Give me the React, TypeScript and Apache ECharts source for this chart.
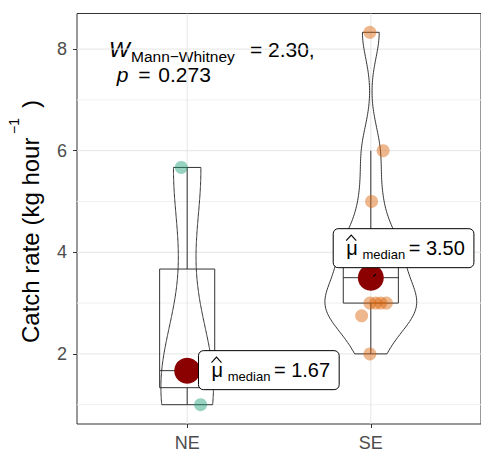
import React, { useEffect, useRef } from "react";
import * as echarts from "echarts";

// ---------- data ----------
const categories = ["NE", "SE"];
const neValues = [1.0, 1.67, 5.67];
const seValues = [2.0, 2.75, 3.0, 3.0, 3.0, 3.0, 4.0, 4.0, 4.0, 5.0, 6.0, 8.33];
// horizontal jitter of each point, in category units
const neJitter = [0.073, 0, -0.032];
const seJitter = [-0.005, -0.05, -0.005, 0.027, 0.054, 0.085, -0.02, 0.01, 0.04, 0.004, 0.067, -0.005];
const yTicks = [2, 4, 6, 8];
const yMinorGrid = [1, 3, 5, 7];
const statW = "2.30";
const statP = "0.273";
const pointColors = ["#1B9E77", "#D95F02"];

// ---------- statistics helpers ----------
function quantile7(sorted: number[], p: number) {
  const h = (sorted.length - 1) * p;
  const lo = Math.floor(h);
  const hi = Math.min(lo + 1, sorted.length - 1);
  return sorted[lo] + (h - lo) * (sorted[hi] - sorted[lo]);
}
function boxStats(values: number[]) {
  const s = [...values].sort((a, b) => a - b);
  const q1 = quantile7(s, 0.25);
  const med = quantile7(s, 0.5);
  const q3 = quantile7(s, 0.75);
  const iqr = q3 - q1;
  const lo = Math.min(...s.filter((v) => v >= q1 - 1.5 * iqr));
  const hi = Math.max(...s.filter((v) => v <= q3 + 1.5 * iqr));
  return { q1, med, q3, lo, hi, iqr, min: s[0], max: s[s.length - 1] };
}
function bwNrd0(values: number[]) {
  const n = values.length;
  const mean = values.reduce((a, b) => a + b, 0) / n;
  const sd = Math.sqrt(values.reduce((a, b) => a + (b - mean) ** 2, 0) / (n - 1));
  const st = boxStats(values);
  const lo = Math.min(sd, st.iqr / 1.34);
  return 0.9 * lo * Math.pow(n, -0.2);
}
function kde(values: number[], nPts = 200) {
  const bw = bwNrd0(values);
  const st = boxStats(values);
  const out: { y: number; d: number }[] = [];
  for (let i = 0; i < nPts; i++) {
    const y = st.min + ((st.max - st.min) * i) / (nPts - 1);
    let s = 0;
    for (const v of values) {
      const z = (y - v) / bw;
      s += Math.exp(-0.5 * z * z) / Math.sqrt(2 * Math.PI);
    }
    out.push({ y, d: s / (values.length * bw) });
  }
  return out;
}

const groups = [
  { x: 1, values: neValues, jitter: neJitter, color: pointColors[0] },
  { x: 2, values: seValues, jitter: seJitter, color: pointColors[1] },
].map((g) => ({ ...g, stats: boxStats(g.values), curve: kde(g.values) }));
const maxD = Math.max(...groups.map((g) => Math.max(...g.curve.map((c) => c.d))));

const FONT = '"Liberation Sans", Arial, sans-serif';
const X_MIN = 0.4;
const X_MAX = 2.6;
const VIOLIN_HALF = 0.25;
const BOX_HALF = 0.15;
// label box placement relative to the median point (pixels)
const labelOffsets = [
  { dx: 11.3, dy: -20 },
  { dx: -37.6, dy: -49 },
];
const C = 0.33; // baseline -> central offset factor

function txt(text: string, x: number, baseline: number, size: number, extra: any = {}) {
  return {
    type: "text",
    style: {
      text,
      x,
      y: baseline - C * size,
      font: `${extra.italic ? "italic " : ""}${size}px ${FONT}`,
      fill: extra.fill || "#000",
      align: "left",
      verticalAlign: "middle",
    },
  };
}

export default function App() {
  const ref = useRef<HTMLDivElement>(null);
  useEffect(() => {
    if (!ref.current) return;
    const chart = echarts.init(ref.current, undefined, { renderer: "svg" });

    const gridLines = [
      ...yTicks.map((v) => ({ v, dir: "h", major: true })),
      ...yMinorGrid.map((v) => ({ v, dir: "h", major: false })),
      ...groups.map((g) => ({ v: g.x, dir: "v", major: true })),
    ];

    const option: any = {
      animation: false,
      grid: {
        left: 77,
        right: -5,
        top: 13.5,
        bottom: 28,
        show: true,
        borderColor: "#333333",
        borderWidth: 1,
        backgroundColor: "transparent",
      },
      xAxis: {
        type: "value",
        min: X_MIN,
        max: X_MAX,
        axisLine: { show: false },
        splitLine: { show: false },
        axisTick: { show: true, customValues: [1, 2], length: 4, lineStyle: { color: "#333333" } },
        axisLabel: {
          customValues: [1, 2],
          formatter: (v: number) => categories[Math.round(v) - 1],
          color: "#4D4D4D",
          fontSize: 18,
          fontFamily: FONT,
          margin: 10,
        },
      },
      yAxis: {
        type: "value",
        min: 0.62,
        max: 8.7,
        axisLine: { show: false },
        splitLine: { show: false },
        axisTick: { show: true, customValues: yTicks, length: 4, lineStyle: { color: "#333333" } },
        axisLabel: {
          customValues: yTicks,
          color: "#4D4D4D",
          fontSize: 18,
          fontFamily: FONT,
          margin: 10,
        },
      },
      series: [
        {
          type: "custom",
          z: 1,
          silent: true,
          data: gridLines.map((_, i) => [i]),
          renderItem: (params: any, api: any) => {
            const g = gridLines[params.dataIndex];
            const a = g.dir === "h" ? api.coord([X_MIN, g.v]) : api.coord([g.v, 0.62]);
            const b = g.dir === "h" ? api.coord([X_MAX, g.v]) : api.coord([g.v, 8.7]);
            return {
              type: "line",
              shape: { x1: a[0], y1: a[1], x2: b[0], y2: b[1] },
              style: { stroke: g.major ? "#E5E5E5" : "#EFEFEF", lineWidth: 1 },
            };
          },
        },
        {
          type: "custom",
          z: 2,
          silent: true,
          data: groups.map((_, i) => [i]),
          renderItem: (params: any, api: any) => {
            const g = groups[params.dataIndex];
            const left = g.curve.map((c) => api.coord([g.x - (VIOLIN_HALF * c.d) / maxD, c.y]));
            const right = g.curve
              .slice()
              .reverse()
              .map((c) => api.coord([g.x + (VIOLIN_HALF * c.d) / maxD, c.y]));
            return {
              type: "polygon",
              shape: { points: [...left, ...right] },
              style: { fill: "none", stroke: "#333333", lineWidth: 1 },
            };
          },
        },
        {
          type: "custom",
          z: 3,
          silent: true,
          data: groups.map((_, i) => [i]),
          renderItem: (params: any, api: any) => {
            const g = groups[params.dataIndex];
            const s = g.stats;
            const tl = api.coord([g.x - BOX_HALF, s.q3]);
            const br = api.coord([g.x + BOX_HALF, s.q1]);
            const ml = api.coord([g.x - BOX_HALF, s.med]);
            const mr = api.coord([g.x + BOX_HALF, s.med]);
            const wTop = api.coord([g.x, s.hi]);
            const wBot = api.coord([g.x, s.lo]);
            const st = { stroke: "#333333", lineWidth: 1, fill: "none" };
            return {
              type: "group",
              children: [
                { type: "rect", shape: { x: tl[0], y: tl[1], width: br[0] - tl[0], height: br[1] - tl[1] }, style: st },
                { type: "line", shape: { x1: ml[0], y1: ml[1], x2: mr[0], y2: mr[1] }, style: st },
                { type: "line", shape: { x1: wTop[0], y1: wTop[1], x2: wTop[0], y2: tl[1] }, style: st },
                { type: "line", shape: { x1: wBot[0], y1: wBot[1], x2: wBot[0], y2: br[1] }, style: st },
              ],
            };
          },
        },
        ...groups.map((g) => ({
          type: "scatter",
          z: 4,
          silent: true,
          symbolSize: 13,
          itemStyle: { color: g.color, opacity: 0.45 },
          data: g.values.map((v, i) => [g.x + g.jitter[i], v]),
        })),
        {
          type: "scatter",
          z: 5,
          silent: true,
          symbolSize: 26,
          itemStyle: { color: "#8B0000", opacity: 1 },
          data: groups.map((g) => [g.x, g.stats.med]),
        },
        {
          type: "custom",
          z: 6,
          silent: true,
          data: groups.map((_, i) => [i]),
          renderItem: (params: any, api: any) => {
            const i = params.dataIndex;
            const g = groups[i];
            const p = api.coord([g.x, g.stats.med]);
            const L = p[0] + labelOffsets[i].dx;
            const T = p[1] + labelOffsets[i].dy;
            const base = T + 26;
            const children: any[] = [];
            if (i === 1) {
              children.push({
                type: "line",
                shape: { x1: p[0] + 2.5, y1: p[1] - 1, x2: p[0] + 5, y2: p[1] - 3.5 },
                style: { stroke: "#000", lineWidth: 1.2 },
              });
            }
            children.push(
              {
                type: "rect",
                shape: { x: L, y: T, width: 140.7, height: 39, r: 5 },
                style: { fill: "#FFFFFF", stroke: "#000000", lineWidth: 1 },
              },
              {
                type: "polyline",
                shape: { points: [[L + 13, T + 12], [L + 18, T + 6.4], [L + 23, T + 12]] },
                style: { stroke: "#000", lineWidth: 1.1, fill: "none" },
              },
              txt("μ", L + 13, base, 20),
              txt("median", L + 29.3, T + 30.5, 13),
              txt("=", L + 75.5, base, 20),
              txt(g.stats.med.toFixed(2), L + 92.7, base, 20)
            );
            return { type: "group", children };
          },
        },
      ],
      graphic: [
        txt("W", 109, 56.7, 22, { italic: true }),
        txt("Mann−Whitney", 131, 61.5, 15.5),
        txt("=", 250, 56.7, 21),
        txt(statW + ",", 268, 56.7, 21),
        txt("p", 116.7, 81.7, 21, { italic: true }),
        txt("=", 138.3, 81.7, 21),
        txt(statP, 158.3, 81.7, 21),
        {
          type: "text",
          x: 30,
          y: 343,
          rotation: Math.PI / 2,
          style: { text: "Catch rate (kg hour", font: `24px ${FONT}`, fill: "#000", align: "left", verticalAlign: "middle" },
        },
        {
          type: "text",
          x: 14,
          y: 134,
          rotation: Math.PI / 2,
          style: { text: "−1", font: `14px ${FONT}`, fill: "#000", align: "left", verticalAlign: "middle" },
        },
        {
          type: "text",
          x: 30,
          y: 108,
          rotation: Math.PI / 2,
          style: { text: ")", font: `24px ${FONT}`, fill: "#000", align: "left", verticalAlign: "middle" },
        },
      ],
    };
    chart.setOption(option);
    return () => chart.dispose();
  }, []);
  return (
    <div
      ref={ref}
      style={{ position: "fixed", left: 0, top: 0, width: 481, height: 452, background: "#fff" }}
    />
  );
}
